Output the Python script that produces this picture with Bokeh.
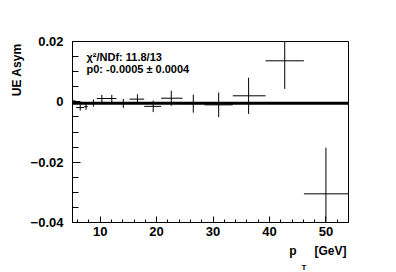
import numpy as np
from bokeh.plotting import figure
from bokeh.models import Range1d, FixedTicker, Label, Title
from bokeh.embed import file_html
from bokeh.resources import INLINE

# ---- data ----
pt    = [5.4, 6.47, 7.5, 8.8, 10.3, 12.06, 14.1, 16.6, 19.4, 22.6, 26.5, 31.0, 36.3, 42.7, 50.0]
pt_lo = [5.0, 5.76, 7.17, 7.8, 9.4, 11.05, 12.9, 15.2, 17.8, 20.8, 24.6, 28.5, 33.5, 39.3, 46.1]
pt_hi = [5.76, 7.17, 7.8, 9.4, 11.05, 12.9, 15.2, 17.8, 20.8, 24.6, 28.5, 33.5, 39.3, 46.1, 55.0]
asym  = [0.0002, -0.0019, -0.0016, -0.0004, 0.0011, 0.0011, -0.0005, 0.0009, -0.0015,
         0.0012, -0.0006, -0.0010, 0.0020, 0.0136, -0.0305]
asym_err = [0.0004, 0.0010, 0.0011, 0.0012, 0.0012, 0.0012, 0.0015, 0.0016, 0.0019,
            0.0025, 0.0030, 0.0041, 0.0060, 0.0093, 0.0153]

fit_x = [5.1, 54.0]
fit_p0 = -0.0005

x_ticks = [10, 20, 30, 40, 50]
x_tick_labels = ["10", "20", "30", "40", "50"]
x_minor = list(range(6, 54, 2))
y_ticks = [-0.04, -0.02, 0.0, 0.02]
y_tick_labels = ["\u22120.04", "\u22120.02", "0", "0.02"]
y_minor = [round(v, 3) for v in np.arange(-0.04, 0.0201, 0.005)]

stat_lines = ["\u03c7\u00b2/NDf: 11.8/13", "p0: -0.0005 \u00b1 0.0004"]
y_title = "UE Asym"
x_title_main = "p\u2003\u2002[GeV]"
x_title_sub = "T"

FONT = "Liberation Sans"

p = figure(width=396, height=272, output_backend="svg", toolbar_location=None,
           x_range=Range1d(fit_x[0], fit_x[1]), y_range=Range1d(-0.04, 0.02),
           min_border_left=72, min_border_right=48, min_border_top=41, min_border_bottom=50)
p.background_fill_color = "white"
p.border_fill_color = "white"
p.outline_line_color = "black"
p.outline_line_width = 1
p.xgrid.visible = False
p.ygrid.visible = False

xa = p.xaxis[0]
xa.ticker = FixedTicker(ticks=x_ticks, minor_ticks=x_minor)
xa.major_label_overrides = {t: l for t, l in zip(x_ticks, x_tick_labels)}
xa.major_tick_in = 6
xa.major_tick_out = 0
xa.minor_tick_in = 3
xa.minor_tick_out = 0
xa.major_label_standoff = 4

ya = p.yaxis[0]
ya.ticker = FixedTicker(ticks=y_ticks, minor_ticks=y_minor)
ya.major_label_overrides = {t: l for t, l in zip(y_ticks, y_tick_labels)}
ya.major_tick_in = 8
ya.major_tick_out = 0
ya.minor_tick_in = 6
ya.minor_tick_out = 0
ya.major_label_standoff = 9

for ax in (xa, ya):
    ax.axis_line_color = "black"
    ax.major_tick_line_color = "black"
    ax.minor_tick_line_color = "black"
    ax.major_label_text_font = FONT
    ax.major_label_text_font_style = "bold"
    ax.major_label_text_font_size = "13px"
    ax.major_label_text_color = "black"

a = np.array(asym)
e = np.array(asym_err)
p.segment(x0=pt_lo, x1=pt_hi, y0=asym, y1=asym, line_color="black", line_width=1)
p.segment(x0=pt, x1=pt, y0=list(a - e), y1=list(a + e), line_color="black", line_width=1)
p.line(fit_x, [fit_p0, fit_p0], line_color="black", line_width=3)

# stats text
for i, txt in enumerate(stat_lines):
    p.add_layout(Label(x=fit_x[0], y=0.02, x_offset=14, y_offset=-15 - 12.5 * i, text=txt,
                       text_font=FONT, text_font_style="bold", text_font_size="11px",
                       text_baseline="alphabetic", text_align="left", text_color="black"))

# axis titles as side-panel titles
p.add_layout(Title(text=y_title, align="right", offset=2, standoff=7,
                   text_font=FONT, text_font_style="bold", text_font_size="12px",
                   text_color="black"), "left")
p.add_layout(Title(text=x_title_main, align="right", offset=2, standoff=6,
                   text_font=FONT, text_font_style="bold", text_font_size="12px",
                   text_color="black"), "below")
p.add_layout(Title(text=x_title_sub, align="right", offset=42, standoff=0,
                   text_font=FONT, text_font_style="bold", text_font_size="8px",
                   text_color="black"), "below")

open("out.html", "w").write(file_html(p, INLINE))
